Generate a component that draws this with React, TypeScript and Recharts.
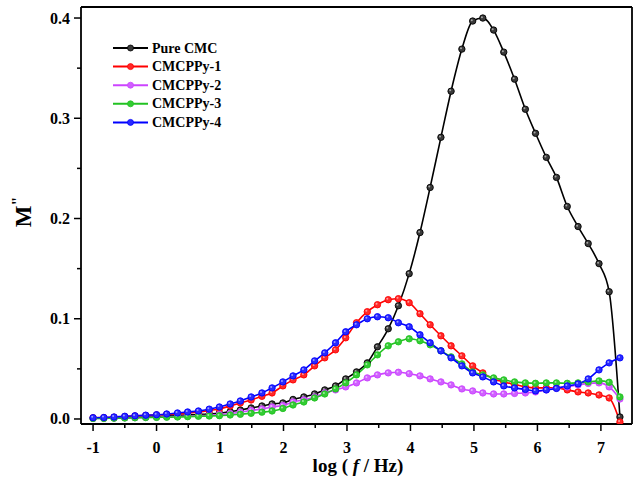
import { Line, LineChart, XAxis, YAxis } from "recharts";

// log(f/Hz) of every measured point (same frequencies for all samples)
const LOG_F = [
  -1, -0.83, -0.67, -0.5, -0.34, -0.17, 0, 0.16, 0.33, 0.49, 0.66, 0.83, 0.99,
  1.16, 1.32, 1.49, 1.66, 1.82, 1.99, 2.15, 2.32, 2.49, 2.65, 2.82, 2.98, 3.15,
  3.32, 3.48, 3.65, 3.81, 3.98, 4.15, 4.31, 4.48, 4.64, 4.81, 4.98, 5.14, 5.31,
  5.47, 5.64, 5.81, 5.97, 6.14, 6.3, 6.47, 6.64, 6.8, 6.97, 7.13, 7.3,
];

const PURE_CMC = [
  0.0008, 0.001, 0.0012, 0.0015, 0.0018, 0.002, 0.0024, 0.003, 0.0035, 0.004,
  0.0045, 0.005, 0.0057, 0.0073, 0.009, 0.011, 0.013, 0.015, 0.016, 0.0195,
  0.022, 0.025, 0.029, 0.033, 0.04, 0.047, 0.056, 0.072, 0.09, 0.113, 0.145,
  0.186, 0.231, 0.281, 0.327, 0.369, 0.397, 0.4, 0.388, 0.366, 0.339, 0.309,
  0.285, 0.261, 0.241, 0.212, 0.192, 0.175, 0.155, 0.127, 0.002,
];

const CMCPPY_1 = [
  0.0012, 0.0014, 0.0018, 0.0024, 0.003, 0.0035, 0.004, 0.0045, 0.005, 0.006,
  0.007, 0.0085, 0.01, 0.013, 0.016, 0.019, 0.0226, 0.026, 0.033, 0.039, 0.044,
  0.053, 0.061, 0.069, 0.081, 0.096, 0.107, 0.114, 0.119, 0.12, 0.116, 0.105,
  0.094, 0.083, 0.073, 0.063, 0.053, 0.046, 0.04, 0.037, 0.0345, 0.032, 0.031,
  0.031, 0.031, 0.029, 0.027, 0.026, 0.024, 0.021, -0.003,
];

const CMCPPY_2 = [
  0.0006, 0.0007, 0.0009, 0.0011, 0.0013, 0.0016, 0.0019, 0.0022, 0.0025,
  0.0029, 0.0033, 0.0037, 0.0045, 0.0055, 0.0068, 0.0085, 0.01, 0.012, 0.0135,
  0.017, 0.019, 0.022, 0.026, 0.029, 0.032, 0.036, 0.041, 0.044, 0.046, 0.0466,
  0.0452, 0.043, 0.04, 0.037, 0.034, 0.03, 0.028, 0.026, 0.025, 0.025, 0.0255,
  0.026, 0.027, 0.029, 0.031, 0.032, 0.034, 0.0355, 0.036, 0.032, 0.02,
];

const CMCPPY_3 = [
  0.0005, 0.0006, 0.0008, 0.001, 0.0012, 0.0014, 0.0016, 0.0018, 0.002, 0.0023,
  0.0027, 0.003, 0.0033, 0.004, 0.0047, 0.0057, 0.0068, 0.008, 0.0105, 0.014,
  0.017, 0.021, 0.025, 0.03, 0.036, 0.044, 0.054, 0.064, 0.073, 0.077, 0.08,
  0.078, 0.074, 0.068, 0.062, 0.055, 0.047, 0.044, 0.041, 0.039, 0.037, 0.036,
  0.0356, 0.036, 0.036, 0.0356, 0.036, 0.037, 0.038, 0.0366, 0.022,
];

const CMCPPY_4 = [
  0.0013, 0.0015, 0.002, 0.0027, 0.0032, 0.0038, 0.0043, 0.005, 0.006, 0.007,
  0.008, 0.0098, 0.012, 0.015, 0.018, 0.022, 0.026, 0.031, 0.037, 0.043, 0.049,
  0.058, 0.066, 0.076, 0.087, 0.094, 0.1, 0.102, 0.101, 0.096, 0.092, 0.084,
  0.076, 0.068, 0.061, 0.053, 0.046, 0.042, 0.037, 0.033, 0.031, 0.0295, 0.028,
  0.029, 0.0305, 0.033, 0.035, 0.04, 0.049, 0.056, 0.061,
];

const X_TICKS = [-1, -0.5, 0, 0.5, 1, 1.5, 2, 2.5, 3, 3.5, 4, 4.5, 5, 5.5, 6, 6.5, 7];
const Y_TICKS = [0, 0.05, 0.1, 0.15, 0.2, 0.25, 0.3, 0.35, 0.4];

const SERIES = [
  { key: "pure", name: "Pure CMC", color: "#000000", dot: "#3a3a3a" },
  { key: "p1", name: "CMCPPy-1", color: "#ff0000", dot: "#ff2a2a" },
  { key: "p2", name: "CMCPPy-2", color: "#cc44ff", dot: "#d060ff" },
  { key: "p3", name: "CMCPPy-3", color: "#22c222", dot: "#33cc33" },
  { key: "p4", name: "CMCPPy-4", color: "#0000ff", dot: "#2a2aff" },
];

const FONT = '"Liberation Serif", "Times New Roman", serif';
const TICK_SIZE = 7;
const TICK_MARGIN = 4;

const data = LOG_F.map((x, i) => ({
  x,
  pure: PURE_CMC[i],
  p1: CMCPPY_1[i],
  p2: CMCPPY_2[i],
  p3: CMCPPY_3[i],
  p4: CMCPPY_4[i],
}));

function XTick(props: any) {
  const { x, y, payload } = props;
  const major = Number.isInteger(payload.value);
  const axisY = y - TICK_SIZE - TICK_MARGIN;
  return (
    <g>
      <line x1={x} x2={x} y1={axisY} y2={axisY + (major ? 7 : 4)} stroke="#000" strokeWidth={1.5} />
      {major && (
        <text x={x} y={axisY + 29} textAnchor="middle" fontFamily={FONT} fontWeight="bold" fontSize={16} fill="#000">
          {payload.value}
        </text>
      )}
    </g>
  );
}

function YTick(props: any) {
  const { x, y, payload } = props;
  const v = payload.value;
  const major = Math.abs(v * 10 - Math.round(v * 10)) < 1e-6;
  const axisX = x + TICK_SIZE + TICK_MARGIN;
  return (
    <g>
      <line x1={axisX} x2={axisX - (major ? 7 : 4)} y1={y} y2={y} stroke="#000" strokeWidth={1.5} />
      {major && (
        <text x={axisX - 11} y={y + 5.5} textAnchor="end" fontFamily={FONT} fontWeight="bold" fontSize={16} fill="#000">
          {v.toFixed(1)}
        </text>
      )}
    </g>
  );
}

function XTitle() {
  return (
    <text x={358} y={472} textAnchor="middle" fontFamily={FONT} fontWeight="bold" fontSize={19} fill="#000">
      log ( <tspan fontStyle="italic">f</tspan> / Hz)
    </text>
  );
}

function YTitle() {
  return (
    <text x={31} y={212} transform="rotate(-90 31 212)" textAnchor="middle" fontFamily={FONT} fontWeight="bold" fontSize={23} fill="#000">
      M<tspan fontSize={16} dy={-8}>"</tspan>
    </text>
  );
}

function Dot(color: string, fill: string) {
  return (props: any) => {
    const { cx, cy, index } = props;
    if (cx == null || cy == null) return <g key={index} />;
    return (
      <g key={index}>
        <circle cx={cx} cy={cy} r={3.2} fill={fill} stroke={color} strokeWidth={0.9} />
        <circle cx={cx - 0.9} cy={cy - 0.9} r={1} fill="#ffffff" opacity={0.55} />
      </g>
    );
  };
}

function ChartLegend() {
  return (
    <svg width={130} height={100} style={{ position: "absolute", left: 113, top: 39 }}>
      {SERIES.map((s, i) => {
        const y = 9 + i * 18.6;
        return (
          <g key={s.key}>
            <line x1={0} x2={35} y1={y} y2={y} stroke={s.color} strokeWidth={2} />
            <circle cx={17.5} cy={y} r={3} fill={s.dot} stroke={s.color} strokeWidth={0.8} />
            <text x={39} y={y + 4.5} fontFamily={FONT} fontWeight="bold" fontSize={14} fill="#000">
              {s.name}
            </text>
          </g>
        );
      })}
    </svg>
  );
}

export default function App() {
  return (
    <div style={{ position: "absolute", left: 0, top: 0, width: 635, height: 484, background: "#fff" }}>
      <LineChart width={635} height={484} data={data} margin={{ top: 6, right: 2, left: 0, bottom: 0 }}>
        <XAxis
          xAxisId="bottom"
          dataKey="x"
          type="number"
          domain={[-1.19, 7.49]}
          ticks={X_TICKS}
          interval={0}
          allowDataOverflow
          height={60}
          tickSize={TICK_SIZE}
          tickMargin={TICK_MARGIN}
          tickLine={false}
          tick={<XTick />}
          axisLine={{ stroke: "#000", strokeWidth: 1.8 }}
          label={{ content: <XTitle /> }}
        />
        <XAxis
          xAxisId="top"
          dataKey="x"
          type="number"
          orientation="top"
          domain={[-1.19, 7.49]}
          allowDataOverflow
          height={1}
          tick={false}
          tickLine={false}
          axisLine={{ stroke: "#000", strokeWidth: 1.8 }}
        />
        <YAxis
          yAxisId="left"
          type="number"
          domain={[-0.005, 0.411]}
          ticks={Y_TICKS}
          interval={0}
          allowDataOverflow
          width={81}
          tickSize={TICK_SIZE}
          tickMargin={TICK_MARGIN}
          tickLine={false}
          tick={<YTick />}
          axisLine={{ stroke: "#000", strokeWidth: 1.8 }}
          label={{ content: <YTitle /> }}
        />
        <YAxis
          yAxisId="right"
          orientation="right"
          type="number"
          domain={[-0.005, 0.411]}
          allowDataOverflow
          width={1}
          tick={false}
          tickLine={false}
          axisLine={{ stroke: "#000", strokeWidth: 1.8 }}
        />
        {SERIES.map((s) => (
          <Line
            key={s.key}
            xAxisId="bottom"
            yAxisId="left"
            type="monotone"
            dataKey={s.key}
            name={s.name}
            stroke={s.color}
            strokeWidth={1.6}
            dot={Dot(s.color, s.dot)}
            activeDot={false}
            isAnimationActive={false}
          />
        ))}
      </LineChart>
      <ChartLegend />
    </div>
  );
}
